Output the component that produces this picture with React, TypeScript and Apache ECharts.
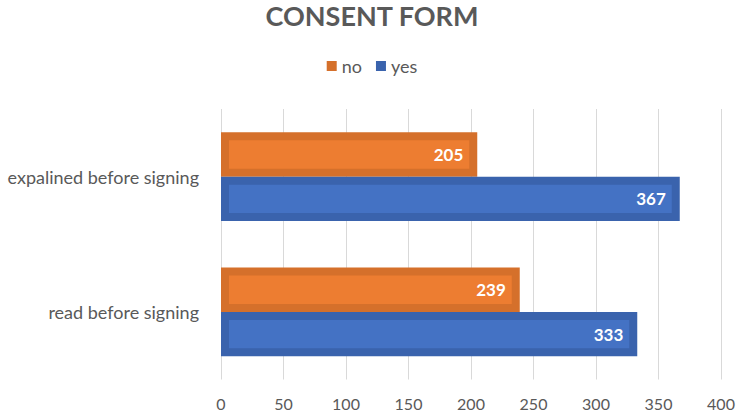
import React, { useEffect, useRef } from "react";
import * as echarts from "echarts";

const categories = ["read before signing", "expalined before signing"];
const noValues = [239, 205];
const yesValues = [333, 367];
const xTicks = { min: 0, max: 400, interval: 50 };

const FONT = "Lato, 'Open Sans', sans-serif";
const GREY = "#595959";

function makeRender(seriesPos: number, dark: string, light: string) {
  return (params: any, api: any) => {
    const cat = api.value(1);
    const val = api.value(0);
    const start = api.coord([0, cat]);
    const end = api.coord([val, cat]);
    const band = api.size([0, 1])[1];
    const h = band * 0.328;
    const y0 = start[1] + (seriesPos === 0 ? -h : 0);
    const w = end[0] - start[0];
    const inset = 8;
    return {
      type: "group",
      children: [
        { type: "rect", shape: { x: start[0], y: y0, width: w, height: h }, style: { fill: dark } },
        {
          type: "rect",
          shape: { x: start[0] + inset, y: y0 + inset, width: w - 2 * inset, height: h - 2 * inset },
          style: { fill: light },
        },
        {
          type: "text",
          x: end[0] - 14,
          y: y0 + h / 2,
          style: {
            text: String(val),
            fill: "#ffffff",
            font: `bold 17px ${FONT}`,
            align: "right",
            verticalAlign: "middle",
          },
        },
      ],
    };
  };
}

export default function App() {
  const ref = useRef<HTMLDivElement>(null);
  useEffect(() => {
    if (!ref.current) return;
    const chart = echarts.init(ref.current, undefined, { renderer: "svg" });
    chart.setOption({
      animation: false,
      backgroundColor: "#ffffff",
      title: {
        text: "CONSENT FORM",
        left: "center",
        top: -3,
        textStyle: { fontFamily: FONT, fontSize: 27, fontWeight: "bold", color: GREY },
      },
      legend: {
        top: 52,
        left: "center",
        itemWidth: 10,
        itemHeight: 10,
        itemGap: 14,
        icon: "rect",
        textStyle: { fontFamily: FONT, fontSize: 18, color: GREY },
        data: ["no", "yes"],
      },
      grid: { left: 221, right: 23, top: 109, bottom: 37.5, containLabel: false },
      xAxis: {
        type: "value",
        min: xTicks.min,
        max: xTicks.max,
        interval: xTicks.interval,
        axisLine: { show: false },
        axisTick: { show: false },
        splitLine: { lineStyle: { color: "#D9D9D9", width: 1 } },
        axisLabel: { fontFamily: FONT, fontSize: 16, color: GREY, margin: 16 },
      },
      yAxis: {
        type: "category",
        data: categories,
        axisLine: { show: false },
        axisTick: { show: false },
        axisLabel: { fontFamily: FONT, fontSize: 18, color: GREY, margin: 22 },
      },
      series: [
        {
          name: "no",
          type: "custom",
          renderItem: makeRender(0, "#D5702B", "#ED7D31"),
          itemStyle: { color: "#D5702B" },
          encode: { x: 0, y: 1 },
          data: noValues.map((v, i) => [v, i]),
        },
        {
          name: "yes",
          type: "custom",
          renderItem: makeRender(1, "#3A63AD", "#4472C4"),
          itemStyle: { color: "#3A63AD" },
          encode: { x: 0, y: 1 },
          data: yesValues.map((v, i) => [v, i]),
        },
      ],
    });
    return () => chart.dispose();
  }, []);
  return (
    <div
      ref={ref}
      style={{ position: "fixed", left: 0, top: 0, width: 744, height: 417 }}
    />
  );
}
